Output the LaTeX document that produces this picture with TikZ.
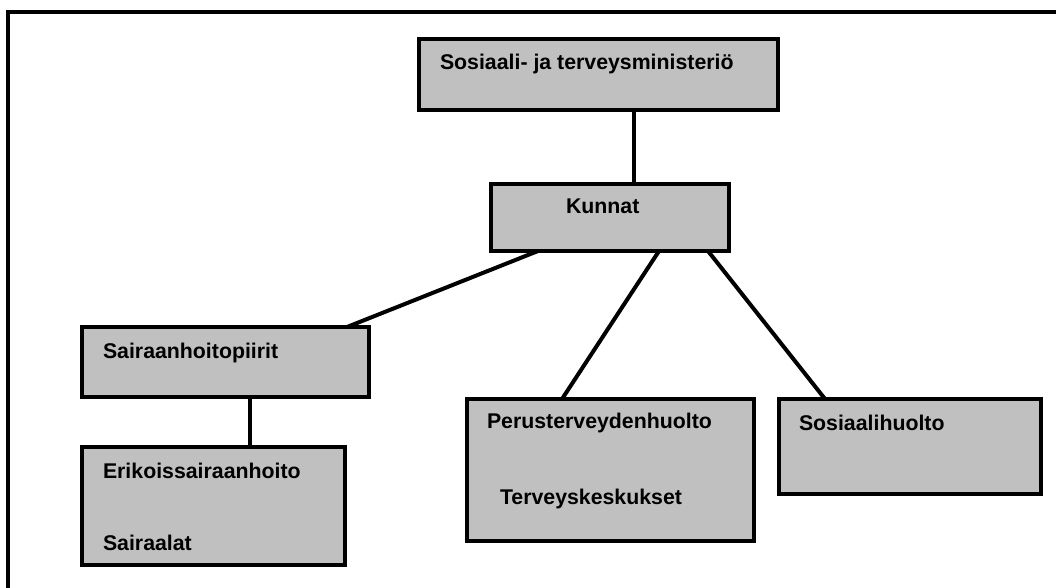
\documentclass[tikz,border=0pt]{standalone}
\usepackage{fontspec}
\setmainfont{Liberation Sans}
\usetikzlibrary{backgrounds}
\definecolor{boxgray}{HTML}{C0C0C0}
\begin{document}
\begin{tikzpicture}[x=1pt,y=-1pt,
  orgbox/.style={draw=black, fill=boxgray, line width=4pt, rectangle,
    outer sep=0pt, inner sep=0pt, anchor=north west},
  label/.style={anchor=base west, inner sep=0pt, outer sep=0pt,
    font=\fontsize{21.3}{26}\selectfont\bfseries},
  link/.style={line width=4pt}]
\useasboundingbox (0,0) rectangle (1056,588);

% open frame: top and left edges only
\draw[line width=4pt] (1056,12) -- (8,12) -- (8,588);

% boxes
\node[orgbox, minimum width=359pt, minimum height=71pt] (stm) at (419,39) {};
\node[orgbox, minimum width=238pt, minimum height=67pt] (kunnat) at (491,184) {};
\node[orgbox, minimum width=287pt, minimum height=70pt] (shp) at (82,327) {};
\node[orgbox, minimum width=263pt, minimum height=118pt] (erik) at (82,447) {};
\node[orgbox, minimum width=287pt, minimum height=142pt] (perus) at (467,399) {};
\node[orgbox, minimum width=262pt, minimum height=95pt] (sos) at (779,399) {};

% texts
\node[label] (tstm) at (440,70) {Sosiaali- ja terveysministeriö};
\node[label] (tkunnat) at (566,213) {Kunnat};
\node[label] (tshp) at (103,358) {Sairaanhoitopiirit};
\node[label] (terik) at (103,478) {Erikoissairaanhoito};
\node[label] (tsair) at (103,550) {Sairaalat};
\node[label] (tperus) at (487,428) {Perusterveydenhuolto};
\node[label] (tterv) at (500,504) {Terveyskeskukset};
\node[label] (tsos) at (799,430) {Sosiaalihuolto};

% connectors
\begin{scope}[on background layer]
\draw[link] ([xshift=215pt]stm.south west) -- ([xshift=143pt]kunnat.north west);
\draw[link] ([xshift=47pt]kunnat.south west) -- ([xshift=265pt]shp.north west);
\draw[link] ([xshift=168pt]kunnat.south west) -- ([xshift=95pt]perus.north west);
\draw[link] ([xshift=217pt]kunnat.south west) -- ([xshift=46pt]sos.north west);
\draw[link] ([xshift=168pt]shp.south west) -- ([xshift=168pt]erik.north west);
\end{scope}
\end{tikzpicture}
\end{document}
